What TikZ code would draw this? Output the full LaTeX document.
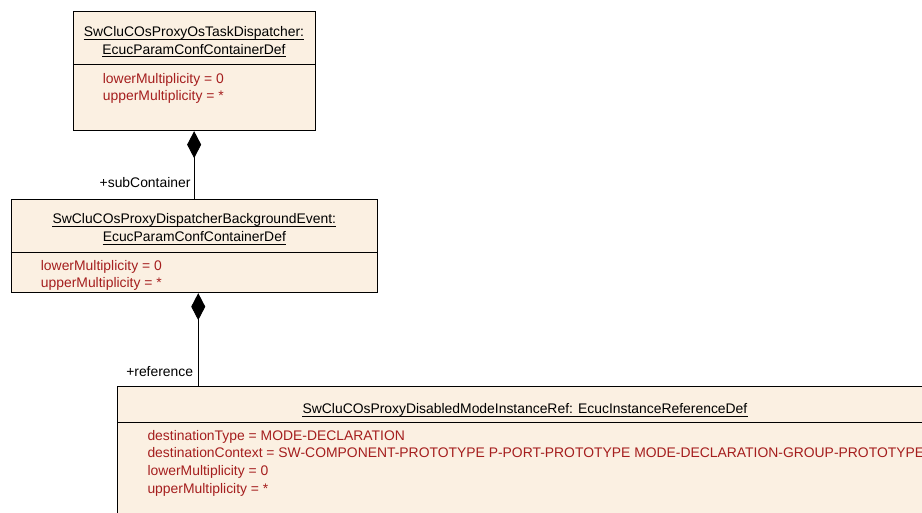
\documentclass[tikz,border=0pt]{standalone}
\usepackage{fontspec}
\setmainfont{Liberation Sans}
\usetikzlibrary{arrows.meta,calc}
\definecolor{boxfill}{RGB}{251,240,226}
\definecolor{attr}{RGB}{165,30,30}
\tikzset{
  umlbox/.style={draw=black, line width=0.9pt, fill=boxfill, rectangle, inner sep=0pt},
  sepline/.style={draw=black, line width=0.9pt},
  ttl/.style={anchor=base, inner sep=0pt, font=\fontsize{13.9}{17}\selectfont},
  att/.style={anchor=base west, inner sep=0pt, text=attr, font=\fontsize{13.9}{17}\selectfont},
  rolelbl/.style={anchor=base east, inner sep=0pt, font=\fontsize{13.9}{17}\selectfont},
  uline/.style={draw=black, line width=0.7pt},
  comp/.style={draw=black, line width=0.9pt, {Diamond[length=27pt,width=14pt,fill=black]}-}
}
\begin{document}
\begin{tikzpicture}[x=1pt,y=-1pt]
\useasboundingbox (0,0) rectangle (922,512);
\clip (0,0) rectangle (922,512);
% box 1
\node[umlbox, minimum width=241.7pt, minimum height=119.7pt] (box1) at (194.15,70.85) {};
\draw[sepline] (box1.west |- 0,64) -- (box1.east |- 0,64);
\node[ttl] (t1a) at (194,36) {SwCluCOsProxyOsTaskDispatcher:};
\node[ttl] (t1b) at (194,54) {EcucParamConfContainerDef};
\draw[uline] (t1a.west |- 0,39) -- (t1a.east |- 0,39);
\draw[uline] (t1b.west |- 0,56.7) -- (t1b.east |- 0,56.7);
\node[att] (a1a) at (102.7,83) {lowerMultiplicity = 0};
\node[att] (a1b) at (102.7,100.5) {upperMultiplicity = *};
% box 2
\node[umlbox, minimum width=366.7pt, minimum height=93.7pt] (box2) at (194.35,245.85) {};
\draw[sepline] (box2.west |- 0,252.3) -- (box2.east |- 0,252.3);
\node[ttl] (t2a) at (194.35,223.3) {SwCluCOsProxyDispatcherBackgroundEvent:};
\node[ttl] (t2b) at (194.35,241.3) {EcucParamConfContainerDef};
\draw[uline] (t2a.west |- 0,226.5) -- (t2a.east |- 0,226.5);
\draw[uline] (t2b.west |- 0,244.3) -- (t2b.east |- 0,244.3);
\node[att] (a2a) at (40.7,270) {lowerMultiplicity = 0};
\node[att] (a2b) at (40.7,287.7) {upperMultiplicity = *};
% box 3
\node[umlbox, minimum width=815pt, minimum height=160pt] (box3) at (525,466.5) {};
\draw[sepline] (box3.west |- 0,422.3) -- (box3.east |- 0,422.3);
\node[ttl] (t3) at (525,413.3) {SwCluCOsProxyDisabledModeInstanceRef: EcucInstanceReferenceDef};
\draw[uline] (t3.west |- 0,416.3) -- (t3.east |- 0,416.3);
\node[att] (a3a) at (147.3,440) {destinationType = MODE-DECLARATION};
\node[att] (a3b) at (147.3,457.7) {destinationContext = SW-COMPONENT-PROTOTYPE P-PORT-PROTOTYPE MODE-DECLARATION-GROUP-PROTOTYPE};
\node[att] (a3c) at (147.3,475.3) {lowerMultiplicity = 0};
\node[att] (a3d) at (147.3,493) {upperMultiplicity = *};
% connectors
\draw[comp] (box1.south) -- (box1.south |- box2.north);
\node[rolelbl] (r1) at (190.7,187.3) {+subContainer};
\coordinate (c2) at ([xshift=3.9pt]box2.south);
\draw[comp] (c2) -- (c2 |- box3.north);
\node[rolelbl] (r2) at (193.3,376) {+reference};
\end{tikzpicture}
\end{document}
